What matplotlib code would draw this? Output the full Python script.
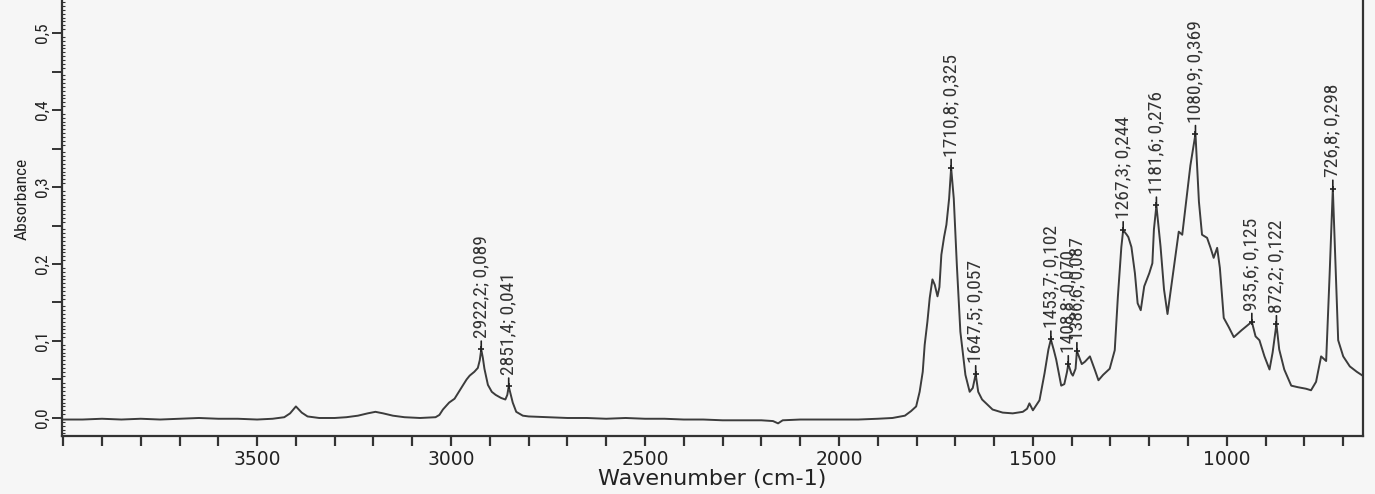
import matplotlib
matplotlib.use("Agg")
import matplotlib.pyplot as plt
from matplotlib import font_manager as fm
from matplotlib.ticker import FixedLocator, MultipleLocator, FuncFormatter

# ---------------- data ----------------
wavenumber = [
    4000, 3950, 3900, 3850, 3800, 3750, 3700, 3650, 3600, 3550, 3500, 3460, 3430, 3415, 3400,
    3385, 3370, 3340, 3300, 3270, 3240, 3215, 3195, 3175, 3150, 3120, 3080, 3040, 3030, 3021,
    3005, 2991, 2980, 2970, 2960, 2952, 2940, 2931, 2926, 2922.2, 2918, 2914, 2905, 2895, 2885,
    2871, 2860, 2855, 2851.4, 2846, 2841, 2832, 2815, 2800, 2750, 2700, 2650, 2600, 2550, 2500,
    2450, 2400, 2350, 2300, 2250, 2200, 2170, 2157, 2145, 2100, 2050, 2000, 1950, 1900, 1862,
    1830, 1814, 1801, 1792, 1784, 1779, 1772, 1766, 1759, 1753, 1746, 1741, 1736, 1729, 1723,
    1716, 1710.8, 1704, 1696, 1687, 1674, 1663, 1655, 1647.5, 1641, 1631, 1604, 1578, 1552, 1526,
    1515, 1509, 1500, 1483, 1470, 1460, 1453.7, 1446, 1440, 1427, 1419, 1412, 1408.8, 1401, 1397,
    1390, 1386.6, 1380, 1374, 1366, 1353, 1340, 1331, 1319, 1302, 1289, 1281, 1272, 1267.3, 1258,
    1254, 1246, 1237, 1230, 1222, 1213, 1200, 1192, 1188, 1181.6, 1171, 1162, 1153, 1137, 1124,
    1115, 1107, 1094, 1080.9, 1072, 1064, 1051, 1042, 1034, 1025, 1018, 1008, 995, 982,
    962, 945, 935.6, 926, 916, 903, 890, 882, 872.2, 865, 852, 834, 817, 796, 783,
    770, 757, 744, 735, 726.8, 719, 713, 700, 683, 665, 650,
]
absorbance = [
    -0.002, -0.002, -0.001, -0.002, -0.001, -0.002, -0.001, 0.000, -0.001, -0.001, -0.002, -0.001, 0.001, 0.006, 0.015,
    0.007, 0.002, 0.000, 0.000, 0.001, 0.003, 0.006, 0.008, 0.006, 0.003, 0.001, 0.000, 0.001, 0.004, 0.011,
    0.020, 0.025, 0.034, 0.042, 0.050, 0.055, 0.060, 0.065, 0.075, 0.089, 0.078, 0.064, 0.043, 0.034, 0.030,
    0.026, 0.024, 0.030, 0.041, 0.030, 0.020, 0.008, 0.003, 0.002, 0.001, 0.000, 0.000, -0.001, 0.000, -0.001,
    -0.001, -0.002, -0.002, -0.003, -0.003, -0.003, -0.004, -0.007, -0.003, -0.002, -0.002, -0.002, -0.002, -0.001, 0.000,
    0.003, 0.009, 0.015, 0.034, 0.060, 0.095, 0.125, 0.156, 0.180, 0.173, 0.158, 0.170, 0.212, 0.235, 0.251,
    0.285, 0.325, 0.285, 0.198, 0.112, 0.056, 0.034, 0.039, 0.057, 0.034, 0.024, 0.011, 0.007, 0.006, 0.008,
    0.012, 0.019, 0.010, 0.023, 0.058, 0.089, 0.102, 0.088, 0.076, 0.042, 0.044, 0.060, 0.070, 0.058, 0.055,
    0.064, 0.087, 0.078, 0.070, 0.073, 0.080, 0.062, 0.049, 0.056, 0.064, 0.088, 0.157, 0.222, 0.244, 0.238,
    0.235, 0.222, 0.188, 0.149, 0.140, 0.171, 0.188, 0.201, 0.245, 0.276, 0.223, 0.167, 0.135, 0.194, 0.242,
    0.238, 0.272, 0.328, 0.369, 0.281, 0.238, 0.234, 0.221, 0.208, 0.221, 0.195, 0.130, 0.118, 0.105,
    0.114, 0.121, 0.125, 0.106, 0.101, 0.080, 0.063, 0.085, 0.122, 0.089, 0.063, 0.042, 0.040, 0.038, 0.036,
    0.047, 0.080, 0.074, 0.187, 0.298, 0.187, 0.101, 0.080, 0.067, 0.060, 0.055,
]

peak_wavenumber = [2922.2, 2851.4, 1710.8, 1647.5, 1453.7, 1408.8, 1386.6, 1267.3, 1181.6, 1080.9, 935.6, 872.2, 726.8]
peak_absorbance = [0.089, 0.041, 0.325, 0.057, 0.102, 0.070, 0.087, 0.244, 0.276, 0.369, 0.125, 0.122, 0.298]

x_major_ticks = [3500, 3000, 2500, 2000, 1500, 1000]
x_label = "Wavenumber (cm-1)"
y_label = "Absorbance"

# ---------------- fonts ----------------
names = {f.name for f in fm.fontManager.ttflist}
narrow_family = None
for cand in ["Liberation Sans Narrow", "Arial Narrow", "Roboto Condensed", "DejaVu Sans Condensed"]:
    if cand in names:
        narrow_family = cand
        break
narrow_kw = {"family": narrow_family} if narrow_family else {"family": "Liberation Sans", "stretch": "condensed"}
wide_family = "DejaVu Sans"

def comma(v, nd):
    return f"{v:.{nd}f}".replace(".", ",")

# ---------------- figure ----------------
bg = "#f6f6f6"
ink = "#333333"
W, H = 1375, 494
fig = plt.figure(figsize=(W / 100, H / 100), dpi=100, facecolor=bg)
left_px, right_px, bottom_px = 62, 1363, 436
ax = fig.add_axes([left_px / W, (H - bottom_px) / H, (right_px - left_px) / W, bottom_px / H])
ax.set_facecolor(bg)

ax.plot(wavenumber, absorbance, color="#3c3c3c", lw=1.4)

for wv, ab in zip(peak_wavenumber, peak_absorbance):
    ax.plot([wv], [ab], marker="+", color="#222222", ms=5, mew=1.2)
    ax.annotate(f"{comma(wv, 1)}; {comma(ab, 3)}", xy=(wv, ab), xytext=(0, 8), textcoords="offset points",
                rotation=90, ha="center", va="bottom", fontsize=14, color=ink,
                arrowprops=dict(arrowstyle="-", color="#222222", lw=1.2, shrinkA=0, shrinkB=0),
                **narrow_kw)

ax.set_xlim(4003, 649)
ax.set_ylim(-0.0234, 0.5429)

# x axis ticks
ax.xaxis.set_major_locator(FixedLocator(x_major_ticks))
ax.xaxis.set_minor_locator(MultipleLocator(100))
ax.tick_params(axis="x", which="both", direction="out", length=7, width=1.6, color=ink, pad=3)
ax.tick_params(axis="x", which="major", labelsize=13.5, labelcolor="#222222")
for lab in ax.get_xticklabels():
    lab.set_family(wide_family)

# y axis ticks
ax.yaxis.set_major_locator(MultipleLocator(0.05))
ax.yaxis.set_minor_locator(MultipleLocator(0.005))
ax.yaxis.set_major_formatter(FuncFormatter(
    lambda v, p: comma(v, 1) if abs(round(v * 10) - v * 10) < 1e-6 else ""))
ax.tick_params(axis="y", which="major", direction="out", length=7, width=1.4, color=ink, pad=2,
               labelsize=12.5, labelcolor="#222222", labelrotation=90)
ax.tick_params(axis="y", which="minor", direction="in", length=2.5, width=0.8, color=ink)
for lab in ax.get_yticklabels():
    lab.set_va("center")
    for k, v in narrow_kw.items():
        getattr(lab, f"set_{k}")(v)

for s in ["left", "bottom", "right"]:
    ax.spines[s].set_color(ink)
    ax.spines[s].set_linewidth(1.6)
ax.spines["top"].set_visible(False)

ax.set_xlabel(x_label, fontsize=16, family=wide_family, color="#222222", labelpad=0)
ax.set_ylabel(y_label, fontsize=12.5, color="#222222", **narrow_kw)
ax.yaxis.set_label_coords(-0.025, 0.545)

fig.savefig("out.png", dpi=100, facecolor=bg)
